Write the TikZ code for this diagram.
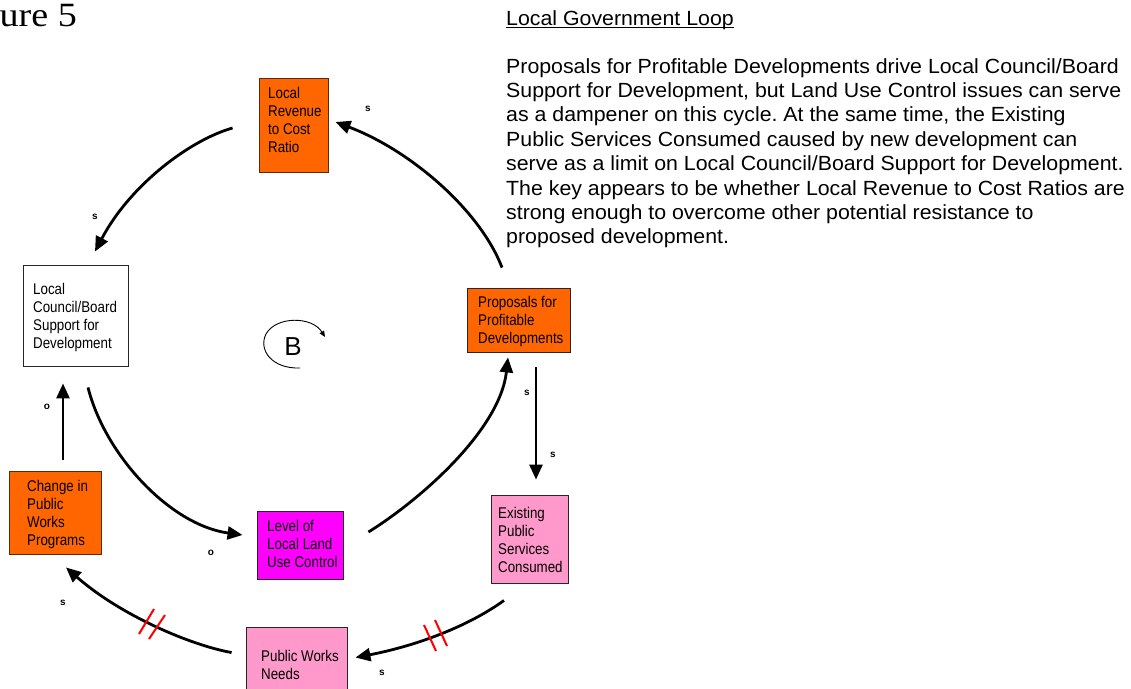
\documentclass[tikz,border=0pt]{standalone}
\usepackage{fontspec}
\setmainfont{Liberation Sans}
\newfontfamily\timesf[FakeStretch=1.12]{Liberation Serif}
\newfontfamily\boxfont[FakeStretch=0.86]{Liberation Sans}
\newfontfamily\parafont[FakeStretch=1.04]{Liberation Sans}
\usetikzlibrary{arrows.meta,calc}

\definecolor{cOrange}{HTML}{FF6600}
\definecolor{cMagenta}{HTML}{FF00FF}
\definecolor{cPink}{HTML}{FF99CC}
\definecolor{cBrown}{HTML}{5A2A00}

\tikzset{
  box/.style={draw=black!85, line width=0.9pt, inner sep=0pt, minimum width=#1},
  boxtext/.style={anchor=north west, inner sep=0pt, align=left,
    font=\boxfont\fontsize{15.5}{18}\selectfont},
  link/.style={line width=2.8pt, -{Triangle[length=15pt,width=13pt]}},
  pol/.style={inner sep=0pt, font=\fontsize{10}{12}\selectfont\bfseries},
  para/.style={anchor=base west, inner sep=0pt, font=\parafont\fontsize{20.5}{24}\selectfont},
  delay/.style={draw=red, line width=2pt},
}

\begin{document}
\frenchspacing
\begin{tikzpicture}[x=1pt,y=-1pt]
\useasboundingbox (0,0) rectangle (1131,688);
\clip (0,0) rectangle (1131,688);

% figure caption
\node[anchor=base west, inner sep=0pt, font=\timesf\fontsize{34}{40}\selectfont] (fig) at (-0.5,26) {ure 5};

% variables
\node[box=69pt, minimum height=94pt, fill=cOrange, draw=cBrown] (rev) at (293.5,125) {};
\node[box=105pt, minimum height=101pt, fill=white] (council) at (75.5,315.5) {};
\node[box=103pt, minimum height=64pt, fill=cOrange] (prop) at (518.5,320) {};
\node[box=77pt, minimum height=88pt, fill=cPink] (exist) at (529.5,539) {};
\node[box=101pt, minimum height=78pt, fill=cPink] (pwn) at (296.5,666) {};
\node[box=86pt, minimum height=68pt, fill=cMagenta] (level) at (300,545) {};
\node[box=92pt, minimum height=83pt, fill=cOrange, draw=cBrown] (change) at (55,512.5) {};

\node[boxtext] (revT) at (268,87) {Local\\Revenue\\to Cost\\Ratio};
\node[boxtext] (councilT) at (33,283) {Local\\Council/Board\\Support for\\Development};
\node[boxtext] (propT) at (478,296) {Proposals for\\Profitable\\Developments};
\node[boxtext] (existT) at (498,507) {Existing\\Public\\Services\\Consumed};
\node[boxtext] (pwnT) at (261,650) {Public Works\\Needs};
\node[boxtext] (levelT) at (267,520) {Level of\\Local Land\\Use Control};
\node[boxtext] (changeT) at (27,480) {Change in\\Public\\Works\\Programs};

% causal links
\draw[link] ([shift={(-16.5,-20)}]prop.north) .. controls (480,210) and (410,150) .. ([shift={(7,-3)}]rev.east);
\draw[link] ([shift={(-26,3)}]rev.west) .. controls (190,140) and (130,185) .. ([shift={(19.5,-13)}]council.north);
\draw[link] ([shift={(12.5,21)}]council.south) .. controls (105,455) and (170,525) .. ([shift={(-14,-10)}]level.west);
\draw[link] ([shift={(25,-13)}]level.east) .. controls (420,500) and (500,430) .. ([shift={(-10.5,5)}]prop.south);
\draw[link] ([shift={(17.5,15)}]prop.south) -- ([shift={(6.5,-15)}]exist.north);
\draw[link] ([shift={(-25.5,17)}]exist.south) .. controls (470,625) and (420,645) .. ([shift={(8,31)}]pwn.north east);
\draw[link] ([shift={(-14,26)}]pwn.north west) .. controls (190,645) and (120,615) .. ([shift={(11,13)}]change.south);
\draw[link] ([shift={(8,-11)}]change.north) -- ([shift={(-12.5,17)}]council.south);

% delay marks
\draw[delay] (424,625) -- (436,651);
\draw[delay] (435,620) -- (447,646);
\draw[delay] (139,634) -- (154,609);
\draw[delay] (149,639) -- (165,615);

% link polarities
\node[pol] (p1) at (368,109) {s};
\node[pol] (p2) at (95,217) {s};
\node[pol] (p3) at (47,407) {o};
\node[pol] (p4) at (211,553) {o};
\node[pol] (p5) at (527,393) {s};
\node[pol] (p6) at (553,455) {s};
\node[pol] (p7) at (382,673) {s};
\node[pol] (p8) at (63,603) {s};

% loop identifier
\node[inner sep=0pt, font=\fontsize{26}{30}\selectfont] (loopB) at (293,347) {B};
\draw[line width=0.9pt, -{Triangle[length=6pt,width=5pt]}] (300,368) .. controls (272,369) and (258,350) .. (266,334) .. controls (276,316) and (312,316) .. (325,337);

% description
\node[para] (title) at (506,25) {Local Government Loop};
\draw[line width=1pt] ([yshift=-2.5pt]title.base west) -- ([yshift=-2.5pt]title.base east);
\node[para] (l1) at (506,73) {Proposals for Profitable Developments drive Local Council/Board};
\node[para] (l2) at (506,97.4) {Support for Development, but Land Use Control issues can serve};
\node[para] (l3) at (506,121.8) {as a dampener on this cycle. At the same time, the Existing};
\node[para] (l4) at (506,146.2) {Public Services Consumed caused by new development can};
\node[para] (l5) at (506,170.6) {serve as a limit on Local Council/Board Support for Development.};
\node[para] (l6) at (506,195) {The key appears to be whether Local Revenue to Cost Ratios are};
\node[para] (l7) at (506,219.4) {strong enough to overcome other potential resistance to};
\node[para] (l8) at (506,243.8) {proposed development.};
\end{tikzpicture}
\end{document}
